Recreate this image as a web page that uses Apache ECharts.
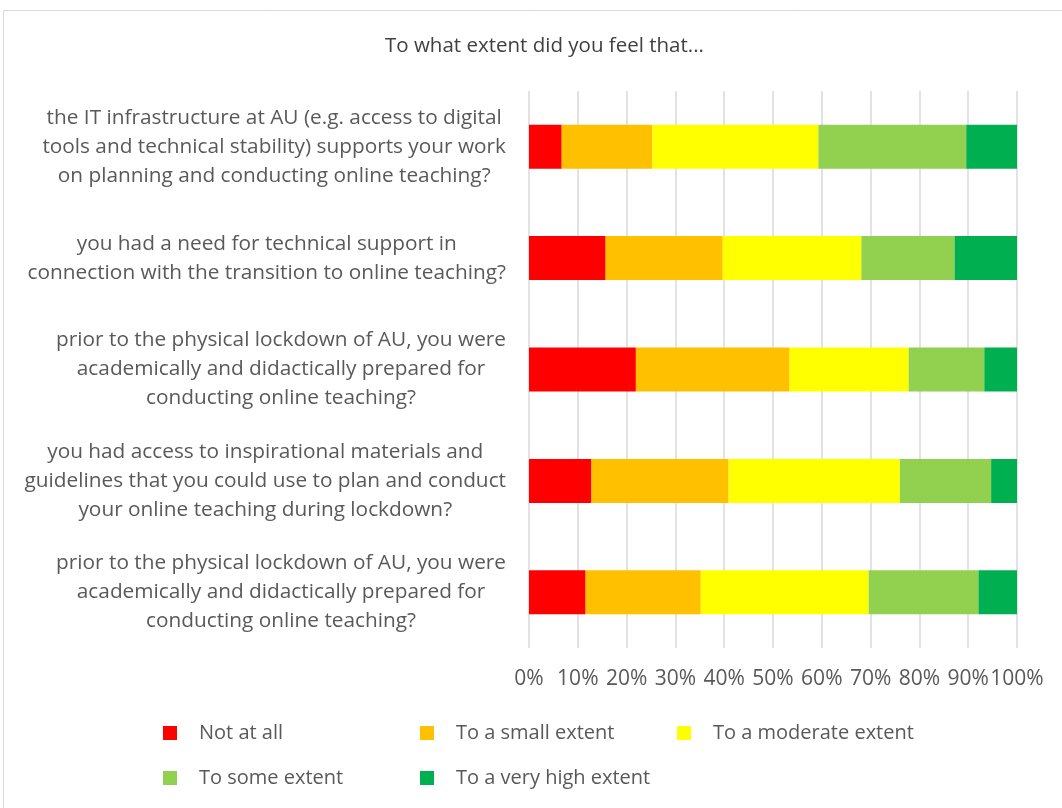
<!DOCTYPE html>
<html>
<head>
<meta charset="utf-8">
<script src="https://cdn.jsdelivr.net/npm/echarts@6/dist/echarts.min.js"></script>
<style>
  html, body { margin: 0; padding: 0; background: #ffffff; }
  #chart { width: 1062px; height: 808px; }
</style>
</head>
<body>
<div id="chart"></div>
<script>
// Survey questions, top to bottom (each line of a label is a separate entry)
const questions = [
  ['the IT infrastructure at AU (e.g. access to digital', 'tools and technical stability) supports your work', 'on planning and conducting online teaching?'],
  ['you had a need for technical support in', 'connection with the transition to online teaching?'],
  ['prior to the physical lockdown of AU, you were', 'academically and didactically prepared for', 'conducting online teaching?'],
  ['you had access to inspirational materials and', 'guidelines that you could use to plan and conduct', 'your online teaching during lockdown?'],
  ['prior to the physical lockdown of AU, you were', 'academically and didactically prepared for', 'conducting online teaching?']
];

// Response shares (%) per question, same order as above
const notAtAll       = [6.7, 15.7, 21.9, 12.8, 11.6];
const smallExtent    = [18.6, 24.0, 31.5, 28.1, 23.6];
const moderateExtent = [34.0, 28.4, 24.4, 35.1, 34.4];
const someExtent     = [30.3, 19.1, 15.5, 18.7, 22.5];
const veryHighExtent = [10.4, 12.8, 6.7, 5.3, 7.9];

const seriesNames = ['Not at all', 'To a small extent', 'To a moderate extent', 'To some extent', 'To a very high extent'];
const seriesColors = ['#FF0000', '#FFC000', '#FFFF00', '#92D050', '#00B050'];
const seriesValues = [notAtAll, smallExtent, moderateExtent, someExtent, veryHighExtent];

const FONT = '"Open Sans", "Noto Sans", sans-serif';
const TEXT = '#595959';

const categories = questions.map((q, i) => String(i));

// Legend laid out as a fixed grid of 3 columns: one legend component per entry
const LEGEND_COLS = 3;
function legendCell(name, idx) {
  const col = idx % LEGEND_COLS;
  const row = Math.floor(idx / LEGEND_COLS);
  return {
    data: [name],
    left: 163 + col * 257,
    top: 723 + row * 45,
    padding: 0,
    itemWidth: 14,
    itemHeight: 14,
    icon: 'rect',
    textStyle: {
      color: TEXT,
      fontFamily: FONT,
      fontSize: 20,
      padding: [0, 0, 0, 17]
    }
  };
}

const chart = echarts.init(document.getElementById('chart'));

chart.setOption({
  backgroundColor: '#ffffff',
  animation: false,
  graphic: [{
    type: 'rect',
    shape: { x: 3.5, y: 10.5, width: 1070, height: 810 },
    style: { fill: 'none', stroke: '#d9d9d9', lineWidth: 1 },
    silent: true
  }],
  title: {
    text: 'To what extent did you feel that...',
    left: 380,
    top: 31,
    textStyle: { fontFamily: FONT, fontSize: 20.5, fontWeight: 'normal', color: '#404040' }
  },
  grid: { left: 529, right: 45, top: 91, height: 557, containLabel: false },
  xAxis: {
    type: 'value',
    min: 0,
    max: 100,
    interval: 10,
    axisLine: { show: false },
    axisTick: { show: false },
    splitLine: { show: true, lineStyle: { color: '#d9d9d9', width: 1.5 } },
    axisLabel: {
      formatter: '{value}%',
      color: TEXT,
      fontFamily: FONT,
      fontSize: 21,
      margin: 21
    }
  },
  yAxis: {
    type: 'category',
    inverse: true,
    data: categories,
    axisLine: { show: false },
    axisTick: { show: false },
    axisLabel: {
      margin: 23,
      align: 'right',
      color: TEXT,
      fontFamily: FONT,
      fontSize: 21,
      lineHeight: 29,
      formatter: function (v) {
        return questions[+v].map(l => '{c|' + l + '}').join('\n');
      },
      rich: {
        c: { align: 'center', color: TEXT, fontFamily: FONT, fontSize: 20.8, lineHeight: 29 }
      }
    }
  },
  legend: seriesNames.map(legendCell),
  series: seriesNames.map((name, i) => ({
    name: name,
    type: 'bar',
    stack: 'total',
    barWidth: 44,
    itemStyle: { color: seriesColors[i] },
    data: seriesValues[i]
  }))
});
</script>
</body>
</html>
